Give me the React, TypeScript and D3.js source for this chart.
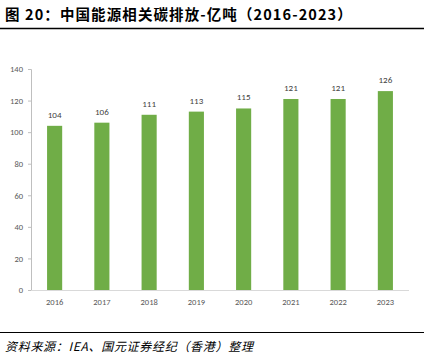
import { useRef, useEffect } from "react";
import * as d3 from "d3";

const years = ["2016", "2017", "2018", "2019", "2020", "2021", "2022", "2023"];
const emissions = [104, 106, 111, 113, 115, 121, 121, 126];
const yTicks = [0, 20, 40, 60, 80, 100, 120, 140];

const TITLE = "图 20：中国能源相关碳排放-亿吨（2016-2023）";
const SOURCE = "资料来源：IEA、国元证券经纪（香港）整理";

export default function App() {
  const ref = useRef<HTMLDivElement>(null);

  useEffect(() => {
    const width = 429;
    const height = 360;
    const margin = { top: 69, right: 20, bottom: 70, left: 31 };

    d3.select(ref.current).selectAll("*").remove();

    const svg = d3
      .select(ref.current)
      .append("svg")
      .attr("width", width)
      .attr("height", height)
      .style("display", "block");

    // ---- Title + rules ----
    svg.append("text")
      .attr("x", 5)
      .attr("y", 20)
      .style("font-family", "'Noto Sans CJK SC', sans-serif")
      .style("font-weight", "bold")
      .style("font-size", "14.5px")
      .style("letter-spacing", "1.1px")
      .style("fill", "#000")
      .text(TITLE);

    svg.append("line")
      .attr("x1", 0).attr("x2", 424)
      .attr("y1", 28.5).attr("y2", 28.5)
      .attr("stroke", "#000").attr("stroke-width", 1.5);

    svg.append("line")
      .attr("x1", 0).attr("x2", 424)
      .attr("y1", 332.5).attr("y2", 332.5)
      .attr("stroke", "#000").attr("stroke-width", 1.2);

    svg.append("text")
      .attr("x", 5)
      .attr("y", 351)
      .style("font-family", "'Noto Sans CJK SC', sans-serif")
      .style("font-style", "italic")
      .style("font-size", "12px")
      .style("letter-spacing", "0.7px")
      .style("fill", "#000")
      .text(SOURCE);

    // ---- Scales ----
    const x = d3
      .scaleBand()
      .domain(years)
      .range([margin.left, 409])
      .paddingInner(0.68)
      .paddingOuter(0.34);

    const y = d3
      .scaleLinear()
      .domain([0, 140])
      .range([290, margin.top]);

    // ---- Axes ----
    const yAxis = svg.append("g")
      .attr("transform", `translate(${margin.left},0)`)
      .call(d3.axisLeft(y).tickValues(yTicks).tickSize(3).tickPadding(5));
    yAxis.select(".domain").attr("stroke", "#bfbfbf");
    yAxis.selectAll(".tick line").attr("stroke", "#bfbfbf");
    yAxis.selectAll(".tick text")
      .style("font-family", "Calibri, 'Liberation Sans', sans-serif")
      .style("font-size", "8.5px")
      .style("fill", "#595959");

    const xAxis = svg.append("g")
      .attr("transform", `translate(0,${y(0)})`)
      .call(d3.axisBottom(x).tickSize(0).tickPadding(9));
    xAxis.select(".domain").attr("stroke", "#d9d9d9").attr("d", `M${margin.left},0.5H409`);
    xAxis.selectAll(".tick text")
      .style("font-family", "Calibri, 'Liberation Sans', sans-serif")
      .style("font-size", "8.5px")
      .style("fill", "#595959");

    // ---- Bars ----
    svg.selectAll("rect.bar")
      .data(emissions)
      .enter()
      .append("rect")
      .attr("class", "bar")
      .attr("x", (_, i) => x(years[i])!)
      .attr("y", (d) => y(d))
      .attr("width", x.bandwidth())
      .attr("height", (d) => y(0) - y(d))
      .attr("fill", "#70ad47");

    svg.selectAll("text.val")
      .data(emissions)
      .enter()
      .append("text")
      .attr("class", "val")
      .attr("x", (_, i) => x(years[i])! + x.bandwidth() / 2)
      .attr("y", (d) => y(d) - 8)
      .attr("text-anchor", "middle")
      .style("font-family", "Calibri, 'Liberation Sans', sans-serif")
      .style("font-size", "9px")
      .style("fill", "#404040")
      .text((d) => d);
  }, []);

  return <div ref={ref} style={{ position: "absolute", left: 0, top: 0 }} />;
}
